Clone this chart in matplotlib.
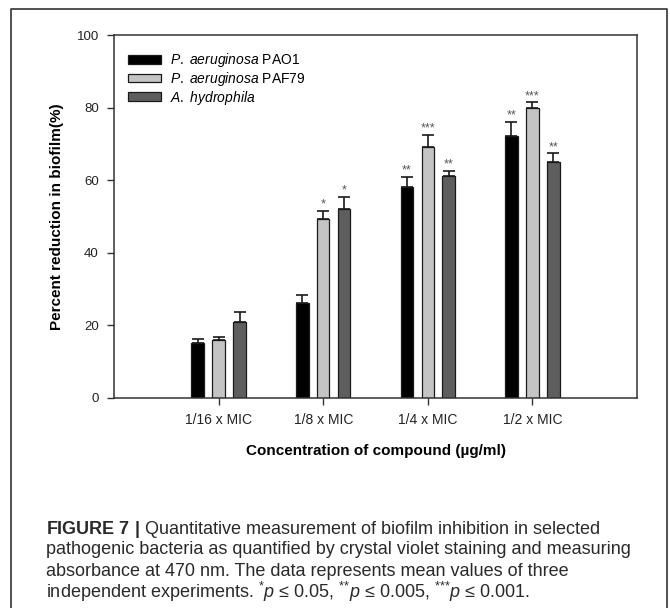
import numpy as np
import matplotlib
matplotlib.use("Agg")
import matplotlib.pyplot as plt
from matplotlib.lines import Line2D
from matplotlib.patches import Patch

plt.rcParams['font.family'] = ['Liberation Sans', 'DejaVu Sans']
plt.rcParams['mathtext.fontset'] = 'custom'
plt.rcParams['mathtext.rm'] = 'Liberation Sans'
plt.rcParams['mathtext.it'] = 'Liberation Sans:italic'
plt.rcParams['mathtext.bf'] = 'Liberation Sans:bold'

# data
categories = ['1/16 x MIC', '1/8 x MIC', '1/4 x MIC', '1/2 x MIC']
strains = [r'$\it{P.\ aeruginosa}$ PAO1', r'$\it{P.\ aeruginosa}$ PAF79', r'$\it{A.\ hydrophila}$']
pao1 = [15.1, 26.1, 58.1, 72.2]
paf79 = [15.9, 49.2, 69.2, 80.0]
hydro = [20.9, 52.1, 61.2, 65.1]
pao1_err = [1.2, 2.4, 2.8, 3.9]
paf79_err = [0.9, 2.3, 3.3, 1.5]
hydro_err = [2.8, 3.4, 1.4, 2.3]
pao1_sig = ['', '', '**', '**']
paf79_sig = ['', '*', '***', '***']
hydro_sig = ['', '*', '**', '**']

means = [pao1, paf79, hydro]
errs = [pao1_err, paf79_err, hydro_err]
sigs = [pao1_sig, paf79_sig, hydro_sig]
colors = ['#000000', '#c4c4c4', '#5e5e5e']

fig = plt.figure(figsize=(6.7, 6.08), dpi=100)
ax = fig.add_axes([114 / 670, 1 - 398 / 608, 523 / 670, 363 / 608])

x = np.arange(len(categories))
width = 0.12
step = 0.2
for j in range(3):
    pos = x + (j - 1) * step
    ax.bar(pos, means[j], width, color=colors[j], edgecolor='#1a1a1a', linewidth=0.9, zorder=2)
    ax.errorbar(pos, means[j], yerr=[np.zeros(4), errs[j]], fmt='none', ecolor='#1a1a1a',
                elinewidth=1.2, capsize=4.3, capthick=1.2, zorder=3)
    for k in range(4):
        if sigs[j][k]:
            ax.text(pos[k], means[j][k] + errs[j][k] + 1.7, sigs[j][k], ha='center', va='center',
                    fontsize=9, color='#555555')

ax.set_xlim(-1, 4)
ax.set_ylim(0, 100)
ax.set_xticks(x)
ax.set_xticklabels(categories, fontsize=10, color='#222222')
ax.set_yticks(range(0, 101, 20))
ax.tick_params(axis='y', labelsize=9.5, labelcolor='#222222')
ax.tick_params(direction='out', length=5, width=1, color='#333333', pad=6)
for sp in ax.spines.values():
    sp.set_color('#333333')
    sp.set_linewidth(1.1)

ax.set_ylabel('Percent reduction in biofilm(%)', fontsize=11, fontweight='bold', labelpad=9)
ax.set_xlabel('Concentration of compound (\u00b5g/ml)', fontsize=11, fontweight='bold', labelpad=12)

handles = [Patch(facecolor=c, edgecolor='#1a1a1a', linewidth=0.9) for c in colors]
ax.legend(handles, strains, loc='upper left', bbox_to_anchor=(0.003, 0.99), frameon=False,
          fontsize=10, handlelength=2.4, handleheight=0.6, labelspacing=0.05, handletextpad=0.6)

# outer frame of the figure panel
fig.add_artist(Line2D([11 / 670, 11 / 670, 667 / 670, 667 / 670],
                      [-0.01, 1 - 9 / 608, 1 - 9 / 608, -0.01],
                      transform=fig.transFigure, color='#333333', linewidth=1.2))

caption = [
    r'$\bf{FIGURE\ 7\ |}$ Quantitative measurement of biofilm inhibition in selected',
    'pathogenic bacteria as quantified by crystal violet staining and measuring',
    'absorbance at 470 nm. The data represents mean values of three',
    r'independent experiments. $^{\text{*}}\it{p}$ LE 0.05, $^{\text{**}}\it{p}$ LE 0.005, '
    r'$^{\text{***}}\it{p}$ LE 0.001.',
]
line_y = [529, 550, 571, 592]
for txt, yy in zip(caption, line_y):
    fig.text(46 / 670, 1 - yy / 608, txt.replace('LE', '\u2264'), ha='left', va='center',
             fontsize=13, color='#2a2a2a')

fig.savefig('out.png', dpi=100)
